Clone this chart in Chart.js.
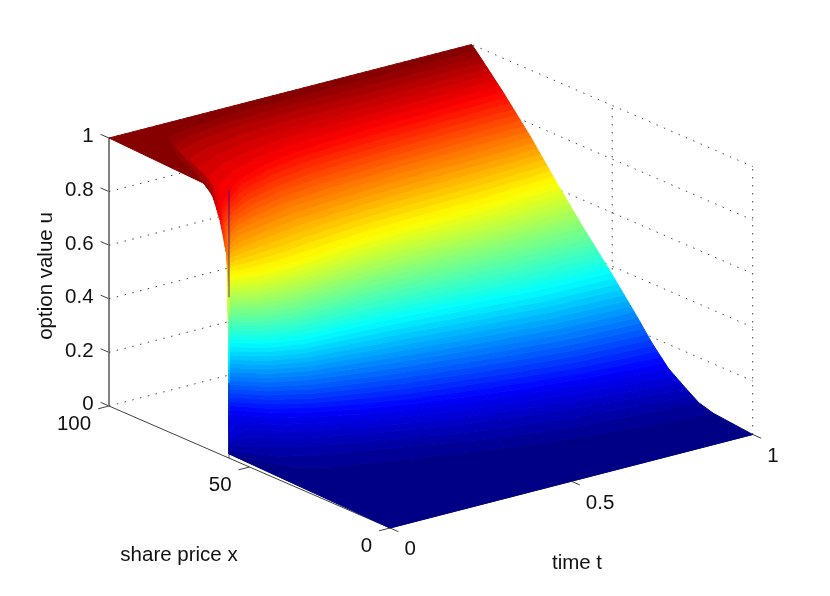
<!DOCTYPE html>
<html>
<head>
<meta charset="utf-8">
<title>option value surface</title>
<script src="https://cdn.jsdelivr.net/npm/chart.js@4"></script>
<style>
  html, body { margin: 0; padding: 0; background: #fff; }
  canvas { display: block; }
</style>
</head>
<body>
<canvas id="chart-surface" width="830" height="596"></canvas>
<script>
var timeTicks = [0, 0.5, 1];
var priceTicks = [0, 50, 100];
var valueTicks = [0, 0.2, 0.4, 0.6, 0.8, 1];

// option value levels, and the share price where each time row reaches them
var levels = [0, 0.005, 0.03, 0.06, 0.11, 0.18, 0.25, 0.375, 0.5, 0.625, 0.75, 0.875, 0.95, 0.99, 1];
var times = [0, 0.06, 0.12, 0.2, 0.3, 0.4, 0.5, 0.65, 0.8, 1];
var priceT000 = [0, 57.3, 57.3, 57.3, 57.3, 57.35, 57.4, 57.4, 57.5, 57.6, 58, 60.5, 63, 66.5, 100];
var priceT006 = [0, 38, 47, 56, 65, 65, 65, 65, 65, 65.2, 65.5, 68, 72, 85, 100];
var priceT012 = [0, 33, 43, 50, 57.5, 58.5, 59, 60, 61.5, 63.5, 70, 73, 90, 95, 100];
var priceT020 = [0, 30, 40, 46, 52, 53.5, 55, 57, 60, 63.5, 72.5, 79, 93, 97.5, 100];
var priceT030 = [0, 27, 36, 41.5, 47, 50, 52.5, 56.5, 60.5, 64.5, 75, 83, 95, 98.5, 100];
var priceT040 = [0, 24, 32, 37.5, 43, 46.5, 50, 56, 61, 66, 76, 85.5, 95.5, 99, 100];
var priceT050 = [0, 21, 28, 34, 40, 44, 48, 55, 61, 67, 77, 86.5, 95.5, 99, 100];
var priceT065 = [0, 17, 24, 30, 36, 40.5, 45, 53, 60.5, 67.5, 78, 87.5, 95, 99, 100];
var priceT080 = [0, 14, 21.5, 27, 33, 37.5, 42.5, 51, 60, 68, 78.5, 88, 95, 99, 100];
var priceT100 = [0, 10.6, 19, 23.3, 30, 36, 41, 50.5, 60.5, 70, 79, 89, 95.5, 99, 100];
var priceRows = [priceT000, priceT006, priceT012, priceT020, priceT030, priceT040, priceT050, priceT065, priceT080, priceT100];

// fixed view of the 3d box, from the corner t=0, x=0
function project(t, x, u) {
  return {
    x: 390 + 362.7 * t - 2.81 * x,
    y: 528 - 93.5 * t - 1.22 * x - 268 * u,
  };
}

// matlab jet colormap, 64 steps
function jet(i) {
  var v = (i + 0.5) / 64;
  function ramp(c) {
    return Math.round(255 * Math.max(0, Math.min(1, 1.5 - Math.abs(4 * v - c))));
  }
  return "rgb(" + ramp(3) + "," + ramp(2) + "," + ramp(1) + ")";
}

function priceAtLevel(row, u) {
  for (var k = 0; k < levels.length - 1; k++) {
    if (u <= levels[k + 1]) {
      var f = (u - levels[k]) / (levels[k + 1] - levels[k]);
      return row[k] + f * (row[k + 1] - row[k]);
    }
  }
  return row[row.length - 1];
}

function contourPoints(u) {
  var pts = [];
  for (var r = 0; r < times.length; r++) {
    pts.push(project(times[r], priceAtLevel(priceRows[r], u), u));
  }
  return pts;
}

function lineSet(points, color, width, dash) {
  return {
    data: points,
    showLine: true,
    pointRadius: 0,
    borderColor: color,
    borderWidth: width,
    borderDash: dash || [],
    fill: false,
  };
}

var datasets = [];

// thin dark line along the jump at t=0
datasets.push(lineSet([project(0, 57.3, 0.6), project(0, 57.3, 1)], "rgba(50,0,160,0.8)", 1));
datasets.push(lineSet([project(0, 57.3, 0), project(0, 57.3, 0.28)], "rgba(0,0,110,0.7)", 1));

// first dataset in the list is painted last, so the top of the surface goes first
for (var b = 63; b >= 0; b--) {
  var lower = contourPoints(b / 64);
  var upper = contourPoints((b + 1) / 64);
  var band = lower.concat(upper.reverse());
  band.push(lower[0]);
  datasets.push({
    data: band,
    showLine: true,
    pointRadius: 0,
    borderColor: jet(b),
    backgroundColor: jet(b),
    borderWidth: 1,
    fill: "shape",
  });
}

var dotted = [1.5, 6.5];
var dotColor = "#444444";

// u grid on the two back walls
valueTicks.forEach(function (u) {
  datasets.push(lineSet([project(0, 100, u), project(1, 100, u), project(1, 0, u)], dotColor, 1, dotted));
});
priceTicks.forEach(function (x) {
  datasets.push(lineSet([project(1, x, 0), project(1, x, 1)], dotColor, 1, dotted));
});

// solid axes with tick stubs
datasets.push(lineSet([project(0, 100, 0), project(0, 100, 1)], "#808080", 2));
datasets.push(lineSet([project(0, 100, 0), project(0, 0, 0), project(1, 0, 0)], "#404040", 1));
valueTicks.forEach(function (u) {
  datasets.push(lineSet([project(0, 100, u), project(0, 103, u)], "#404040", 1));
});
priceTicks.forEach(function (x) {
  datasets.push(lineSet([project(0, x, 0), project(-0.03, x, 0)], "#404040", 1));
});
timeTicks.forEach(function (t) {
  datasets.push(lineSet([project(t, 0, 0), project(t, -3, 0)], "#404040", 1));
});

var axisText = {
  id: "axisText",
  afterDatasetsDraw: function (chart) {
    var c = chart.ctx;
    var sx = chart.scales.x;
    var sy = chart.scales.y;
    function label(text, p, dx, dy, align) {
      c.textAlign = align;
      c.fillText(text, sx.getPixelForValue(p.x) + dx, sy.getPixelForValue(p.y) + dy);
    }
    c.save();
    c.font = "20.5px 'Liberation Sans'";
    c.fillStyle = "#111111";
    c.textBaseline = "middle";
    valueTicks.forEach(function (u) {
      label(String(u), project(0, 103, u), -7, 2.5, "right");
    });
    priceTicks.forEach(function (x) {
      label(String(x), project(-0.03, x, 0), -7, 16, "right");
    });
    timeTicks.forEach(function (t) {
      label(String(t), project(t, -3, 0), 6, 18, "left");
    });
    c.textAlign = "center";
    c.fillText("share price x", 179, 555);
    c.fillText("time t", 577, 563);
    c.translate(46, 276);
    c.rotate(-Math.PI / 2);
    c.fillText("option value u", 0, 0);
    c.restore();
  },
};

new Chart(document.getElementById("chart-surface").getContext("2d"), {
  type: "scatter",
  data: { datasets: datasets },
  options: {
    responsive: false,
    animation: false,
    layout: { padding: 0 },
    plugins: {
      legend: { display: false },
      tooltip: { enabled: false },
    },
    scales: {
      x: { type: "linear", min: 0, max: 830, display: false },
      y: { type: "linear", min: 0, max: 596, reverse: true, display: false },
    },
  },
  plugins: [axisText],
});
</script>
</body>
</html>
